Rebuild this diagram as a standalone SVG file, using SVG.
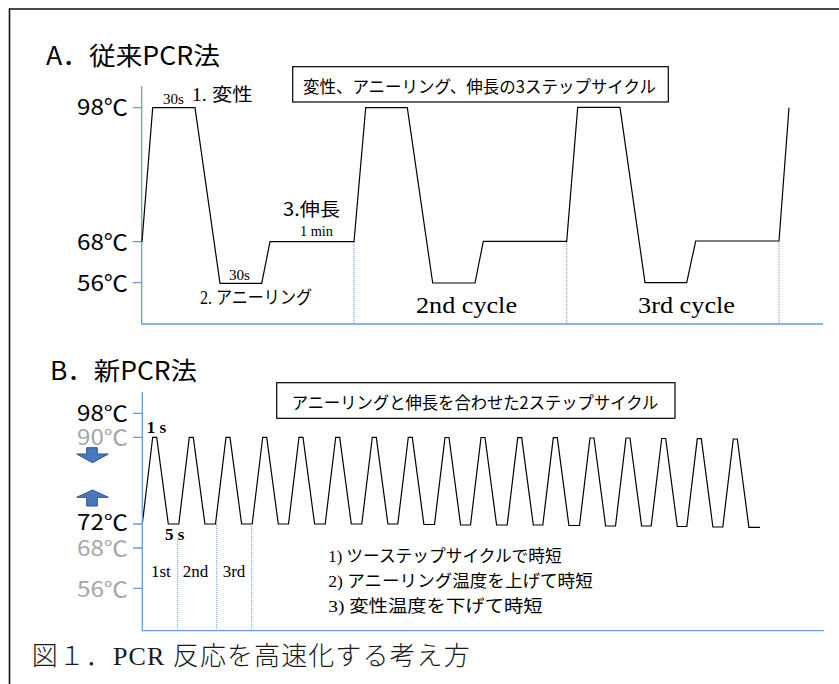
<svg xmlns="http://www.w3.org/2000/svg" width="839" height="684" viewBox="0 0 839 684">
<style>
.gothic{font-family:"Noto Sans CJK JP","Liberation Sans",sans-serif;fill:#000}
.serif{font-family:"Liberation Serif","Noto Sans CJK JP",serif;fill:#000}
.mincho{font-family:"Liberation Serif","Noto Sans CJK JP",serif;fill:#1a1a1a;font-weight:300}
.axis{stroke:#6a9bd8;stroke-width:1.3;fill:none}
.dot{stroke:#6a9bd8;stroke-width:1;stroke-dasharray:1,1;fill:none}
.trace{stroke:#000;stroke-width:1.2;fill:none;stroke-linejoin:miter}
.box{fill:#fff;stroke:#000;stroke-width:1.2}
.gray{fill:#a6a6a6}
.arrow{fill:#4a77be;stroke:#2f528f;stroke-width:1}
</style>
<rect width="839" height="684" fill="#fff"/>
<path d="M9.5,684 V9 H839" fill="none" stroke="#111" stroke-width="1.6"/>

<g id="panelA">
  <text class="gothic" x="46" y="65" font-size="25" textLength="174" lengthAdjust="spacingAndGlyphs">A．従来PCR法</text>
  <g id="axisA">
    <path class="axis" d="M141.7,86 V324 H823"/>
    <path class="axis" d="M132.7,107.7 H141.7 M132.7,241.7 H141.7 M132.7,282.7 H141.7"/>
    <text class="gothic" x="77" y="115" font-size="22" textLength="51" lengthAdjust="spacingAndGlyphs">98℃</text>
    <text class="gothic" x="77" y="250" font-size="22" textLength="51" lengthAdjust="spacingAndGlyphs">68℃</text>
    <text class="gothic" x="77" y="291" font-size="22" textLength="51" lengthAdjust="spacingAndGlyphs">56℃</text>
  </g>
  <g id="boxA">
    <rect class="box" x="292.7" y="66.7" width="375.6" height="35.3"/>
    <text class="gothic" x="303" y="93" font-size="17" textLength="353" lengthAdjust="spacingAndGlyphs">変性、アニーリング、伸長の3ステップサイクル</text>
  </g>
  <g id="labelsA">
    <text class="serif" x="163" y="104" font-size="15" textLength="21" lengthAdjust="spacingAndGlyphs">30s</text>
    <text class="serif" x="191.7" y="101" font-size="18" textLength="61" lengthAdjust="spacingAndGlyphs">1. 変性</text>
    <text class="gothic" x="283" y="216" font-size="18" textLength="57" lengthAdjust="spacingAndGlyphs">3.伸長</text>
    <text class="serif" x="300" y="236" font-size="14.5" textLength="33" lengthAdjust="spacingAndGlyphs">1 min</text>
    <text class="serif" x="229" y="280" font-size="15" textLength="21" lengthAdjust="spacingAndGlyphs">30s</text>
    <text class="serif" x="200" y="304" font-size="18" textLength="112" lengthAdjust="spacingAndGlyphs">2. アニーリング</text>
    <text class="serif" x="416" y="313" font-size="24" textLength="101" lengthAdjust="spacingAndGlyphs">2nd cycle</text>
    <text class="serif" x="638" y="313" font-size="24" textLength="97" lengthAdjust="spacingAndGlyphs">3rd cycle</text>
  </g>
</g>

<g id="connectors">
  <path class="trace" d="M142,241.7 L152.7,107.7 L195,107.7 L220,283.3 L261.7,283.3 L270,241.7 L354,241.7 L365.7,107.7 L407.3,107.7 L432.7,283 L475,283 L483.3,241.3 L566.7,241.3 L577.7,107.3 L620,107.3 L645,282.7 L686.7,282.7 L695.7,241 L779,241 L789,107.7"/>
  <path class="dot" d="M354,242 V324 M566.7,242 V324 M779,242 V324"/>
  <path class="trace" d="M142.3,524 L152.7,437.3 L156.7,437.3 L168.3,524 L178.8,524 L189.3,437.3 L193.3,437.3 L204.9,524 L215.5,524 L226,437.3 L230,437.3 L241.6,524 L252.2,524 L262.7,437.3 L266.7,437.3 L278.3,524 L288.5,524 L299,437.3 L303,437.3 L314.6,524 L325.2,524 L335.7,437.3 L339.7,437.3 L351.3,524 L361.8,524 L372.3,437.3 L376.3,437.3 L387.9,524 L397.8,524 L408.3,437.3 L412.3,437.3 L423.9,524.5 L434.5,524.5 L445,437.5 L449,437.5 L460.6,525 L470.5,525 L481,437.5 L485,437.5 L496.6,525 L507.2,525 L517.7,437.7 L521.7,437.7 L533.3,525 L542.8,525 L553.3,437.7 L557.3,437.7 L568.9,525.5 L579.5,525.5 L590,438 L594,438 L605.6,526 L615.5,526 L626,438 L630,438 L641.6,526 L651.2,526 L661.7,438.5 L665.7,438.5 L677.3,526.5 L686.8,526.5 L697.3,438.7 L701.3,438.7 L712.9,527 L722.8,527 L733.3,439 L737.3,439 L748.9,527.3 L760,527.3"/>
  <path class="dot" d="M177.7,540 V630.7 M216.7,524 V630.7 M251.7,524 V630.7"/>
</g>

<g id="panelB">
  <text class="gothic" x="50" y="380" font-size="25" textLength="147" lengthAdjust="spacingAndGlyphs">B．新PCR法</text>
  <g id="axisB">
    <path class="axis" d="M142.3,391.7 V630.7 H824"/>
    <path class="axis" d="M133,413.3 H142.3 M133,437.3 H142.3 M133,524 H142.3 M133,548 H142.3 M133,588.3 H142.3"/>
    <text class="gothic" x="77" y="421" font-size="21" textLength="51" lengthAdjust="spacingAndGlyphs">98℃</text>
    <text class="gothic gray" x="77" y="445" font-size="21" textLength="51" lengthAdjust="spacingAndGlyphs">90℃</text>
    <text class="gothic" x="77" y="530" font-size="21" textLength="51" lengthAdjust="spacingAndGlyphs">72℃</text>
    <text class="gothic gray" x="77" y="556" font-size="21" textLength="51" lengthAdjust="spacingAndGlyphs">68℃</text>
    <text class="gothic gray" x="77" y="597" font-size="21" textLength="51" lengthAdjust="spacingAndGlyphs">56℃</text>
  </g>
  <g id="arrowDown">
    <path class="arrow" d="M86.7,447.7 H97.3 V454 H108.3 L92.5,462.7 L76.7,454 H86.7 Z"/>
  </g>
  <g id="arrowUp">
    <path class="arrow" d="M92.5,490 L108.3,497.3 H97.3 V506 H86.7 V497.3 H76.7 Z"/>
  </g>
  <g id="boxB">
    <rect class="box" x="276.7" y="382.7" width="398.3" height="35.6"/>
    <text class="gothic" x="291.7" y="409.3" font-size="17" textLength="366.6" lengthAdjust="spacingAndGlyphs">アニーリングと伸長を合わせた2ステップサイクル</text>
  </g>
  <g id="labelsB">
    <text class="serif" x="146.7" y="433.3" font-size="17" font-weight="bold">1 s</text>
    <text class="serif" x="165" y="540" font-size="17" font-weight="bold">5 s</text>
    <text class="serif" x="151" y="577.3" font-size="17">1st</text>
    <text class="serif" x="182.7" y="577.3" font-size="17">2nd</text>
    <text class="serif" x="222.7" y="577.3" font-size="17">3rd</text>
    <text class="serif" x="328.3" y="561.7" font-size="17" textLength="233.4" lengthAdjust="spacingAndGlyphs">1) ツーステップサイクルで時短</text>
    <text class="serif" x="328.3" y="587.3" font-size="17" textLength="264.4" lengthAdjust="spacingAndGlyphs">2) アニーリング温度を上げて時短</text>
    <text class="serif" x="328.3" y="611.7" font-size="17" textLength="214.4" lengthAdjust="spacingAndGlyphs">3) 変性温度を下げて時短</text>
  </g>
</g>

<g id="caption">
  <text class="mincho" x="31.7" y="665" font-size="26" textLength="438" lengthAdjust="spacing">図１．PCR 反応を高速化する考え方</text>
</g>
</svg>
